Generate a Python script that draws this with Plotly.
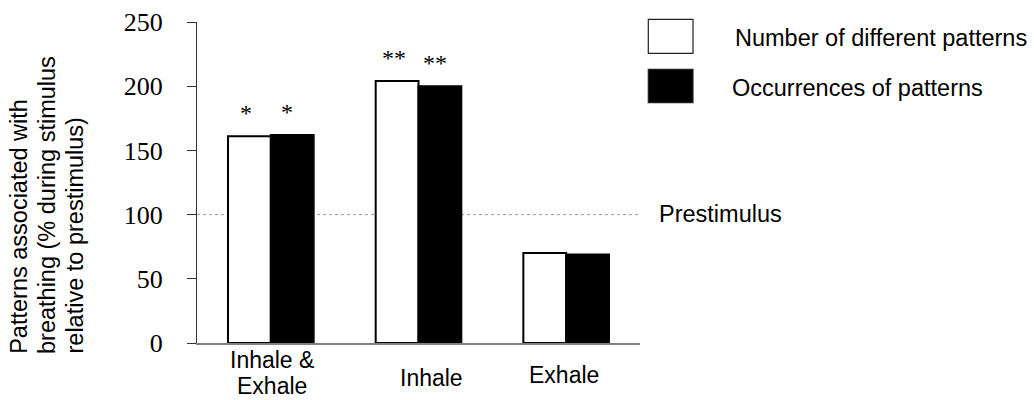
import plotly.graph_objects as go

# ---- data ----
categories = ["Inhale & Exhale", "Inhale", "Exhale"]
series_names = ["Number of different patterns", "Occurrences of patterns"]
different_patterns = [161, 204, 70]
occurrences = [162, 200, 69]
sig_different = ["*", "**", ""]
sig_occurrences = ["*", "**", ""]
prestimulus_value = 100
prestimulus_label = "Prestimulus"
y_ticks = [0, 50, 100, 150, 200, 250]
y_title_lines = ["Patterns associated with", "breathing (% during stimulus", "relative to prestimulus)"]
cat_label_lines = [["Inhale &", "Exhale"], ["Inhale"], ["Exhale"]]

# ---- layout geometry ----
W, H = 1034, 400
L, R, T, B = 197, 394, 22, 57
PW, PH = W - L - R, H - T - B
SANS = "Liberation Sans, Arial, Helvetica, sans-serif"
SERIF = "Liberation Serif, Times New Roman, Times, serif"


def px_x(px):
    return (px - L) / PW


def px_y(py):
    return (H - B - py) / PH


fig = go.Figure()
fig.add_trace(go.Bar(x=categories, y=different_patterns, name=series_names[0],
                     marker=dict(color="white", line=dict(color="black", width=2))))
fig.add_trace(go.Bar(x=categories, y=occurrences, name=series_names[1],
                     marker=dict(color="black", line=dict(color="black", width=2))))

fig.update_layout(
    width=W, height=H,
    margin=dict(l=L, r=R, t=T, b=B, pad=0, autoexpand=False),
    paper_bgcolor="white", plot_bgcolor="white",
    barmode="group", bargap=0.42, bargroupgap=0,
    showlegend=False,
    font=dict(family=SANS, color="black"),
)
fig.update_xaxes(type="category", range=[-0.5, 2.5], showticklabels=False,
                 showline=True, linecolor="#808080", linewidth=1.5, automargin=False,
                 ticks="", showgrid=False, zeroline=False)
fig.update_yaxes(range=[0, 250], tickvals=y_ticks, ticktext=[str(v) for v in y_ticks],
                 showline=True, linecolor="#333", linewidth=1, automargin=False,
                 ticks="outside", ticklen=9, tickcolor="#333", tickwidth=1,
                 ticklabelstandoff=19,
                 tickfont=dict(family=SERIF, size=26, color="black"),
                 showgrid=False, zeroline=False)

# prestimulus reference line
fig.add_shape(type="line", xref="paper", yref="y", x0=0, x1=1,
              y0=prestimulus_value, y1=prestimulus_value,
              line=dict(color="#999", width=1, dash="dot"), layer="below")
fig.add_annotation(text=prestimulus_label, xref="paper", yref="paper",
                   x=px_x(656.5), y=px_y(222.7 + 6), xanchor="left", yanchor="bottom",
                   showarrow=False, font=dict(family=SANS, size=23.5, color="black"))

# significance markers
for vals, sigs, dx in [(different_patterns, sig_different, -25), (occurrences, sig_occurrences, 16.5)]:
    for c, v, s in zip(categories, vals, sigs):
        if s:
            fig.add_annotation(text=s, x=c, y=v, xref="x", yref="y", xshift=dx, yshift=23,
                               xanchor="center", yanchor="middle", showarrow=False,
                               font=dict(family=SERIF, size=24, color="black"))

# category labels (borderpad 0: box bottom = baseline + descent)
cat_baselines = [[368.8, 394.8], [387.3], [384]]
cat_xshift = [1, 13, -2]
for c, lines, bases, xs in zip(categories, cat_label_lines, cat_baselines, cat_xshift):
    for line, base in zip(lines, bases):
        fig.add_annotation(text=line, x=c, xref="x", yref="paper", y=px_y(base + 4.9),
                           xshift=xs, xanchor="center", yanchor="bottom", showarrow=False,
                           borderpad=0,
                           font=dict(family=SANS, size=23, color="black"))

# y axis title (three rotated lines, start-aligned)
title_baselines = [28.3, 56, 83.5]
for line, base in zip(y_title_lines, title_baselines):
    fig.add_annotation(text=line, textangle=-90, xref="paper", yref="paper",
                       x=px_x(base + 6), y=px_y(355 + 1), xanchor="right", yanchor="bottom",
                       showarrow=False, font=dict(family=SANS, size=23.5, color="black"))

# legend
legend_boxes = [(19.3, 53.3), (69.3, 102.7)]
legend_fill = ["white", "black"]
legend_text_left = [733, 729.7]
legend_baseline = [46.7, 97.3]
for name, (y0, y1), fill, tl, bl in zip(series_names, legend_boxes, legend_fill, legend_text_left, legend_baseline):
    fig.add_shape(type="rect", xref="paper", yref="paper",
                  x0=px_x(648.3), x1=px_x(693), y0=px_y(y1), y1=px_y(y0),
                  fillcolor=fill, line=dict(color="#222", width=1.2))
    fig.add_annotation(text=name, xref="paper", yref="paper", x=px_x(tl), y=px_y(bl + 6),
                       xanchor="left", yanchor="bottom", showarrow=False,
                       font=dict(family=SANS, size=23.5, color="black"))

fig.write_html("out.html", config={"displayModeBar": False},
               post_script="document.body.style.margin='0';document.body.style.overflow='hidden';")
